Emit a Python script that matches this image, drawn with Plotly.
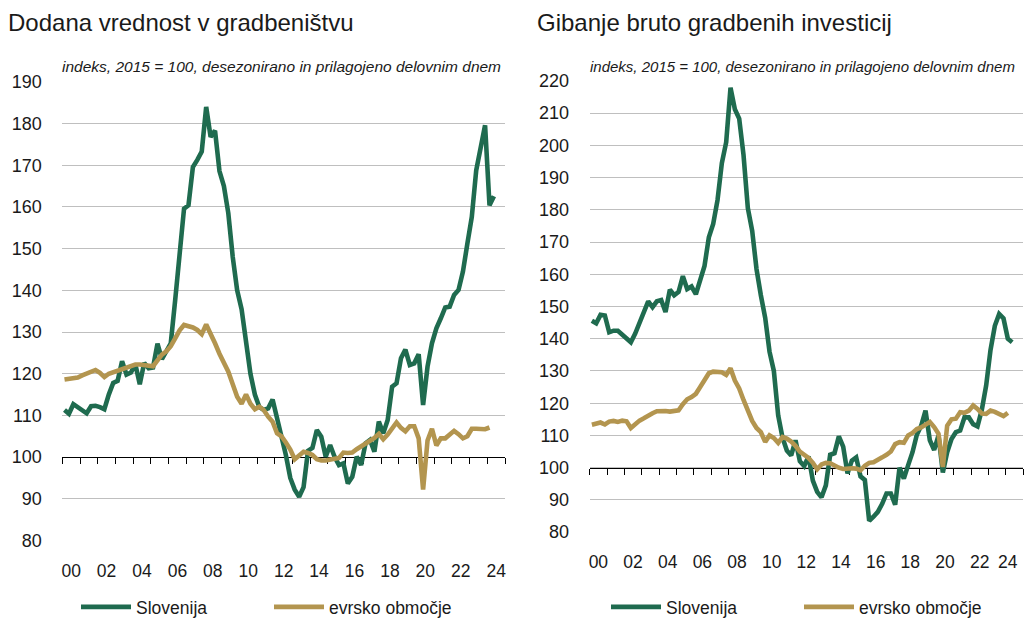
import plotly.graph_objects as go

W, H = 1024, 620

# ---- data: quarterly, 2000Q1 onwards ----
years = list(range(2000, 2025))
va_slovenia = [
    111.3, 110.4, 112.7, 112.0, 111.3, 110.5, 112.2, 112.3, 112.0, 111.5,
    115.0, 117.8, 118.3, 123.0, 119.8, 120.3, 122.3, 117.5, 122.6, 121.3,
    121.5, 127.2, 123.5, 125.6, 127.3, 137.7, 149.0, 159.6, 160.4, 169.6,
    171.3, 173.3, 184.0, 176.8, 178.3, 168.6, 165.0, 158.5, 148.0, 140.0,
    135.5, 127.0, 120.0, 115.0, 112.0, 111.3, 111.7, 113.8, 109.5, 105.5,
    100.5, 95.0, 92.2, 90.5, 92.8, 101.5, 102.2, 106.5, 104.9, 100.1,
    102.9, 100.1, 98.1, 98.5, 93.7, 95.3, 100.1, 98.1, 103.3, 104.1,
    101.3, 108.5, 105.7, 108.9, 116.9, 117.7, 123.7, 125.8, 122.1, 122.5,
    124.7, 112.5, 121.7, 127.3, 130.9, 133.3, 135.9, 136.1, 138.9, 140.1,
    144.5, 151.2, 157.6, 168.8, 173.6, 179.6, 160.4, 162.6,
]
va_euro = [
    118.6, 118.8, 119.0, 119.1, 119.6, 120.0, 120.4, 120.9, 120.2, 119.2,
    120.0, 120.4, 120.6, 120.9, 121.3, 121.8, 122.2, 122.2, 122.0, 121.8,
    121.8, 123.2, 124.6, 125.4, 126.6, 128.5, 130.4, 131.7, 131.4, 131.1,
    130.5, 129.5, 131.8, 129.2, 127.3, 124.8, 122.6, 120.5, 117.5, 114.5,
    112.8, 115.0, 112.8, 111.5, 112.1, 111.3, 109.7, 108.5, 105.7, 105.0,
    103.5, 101.8, 99.5, 100.3, 101.3, 101.0, 100.5, 99.5, 99.2, 99.2,
    99.5, 99.6, 99.8, 101.1, 101.0, 101.1, 101.9, 102.5, 103.2, 103.8,
    104.6, 105.6, 104.3, 105.4, 106.8, 108.3, 107.0, 106.2, 107.4, 107.4,
    104.5, 92.2, 104.0, 106.8, 102.8, 104.5, 104.5, 105.3, 106.3, 105.5,
    104.5, 105.0, 106.8, 106.8, 106.7, 106.7, 107.1,
]
inv_slovenia = [
    145.6, 144.8, 147.4, 147.2, 142.0, 142.5, 142.5, 141.2, 140.2, 138.9,
    141.6, 144.8, 147.9, 151.6, 149.8, 151.6, 152.0, 148.3, 155.2, 153.5,
    154.5, 159.4, 155.4, 156.2, 153.8, 158.4, 162.6, 171.5, 175.6, 183.0,
    194.5, 201.0, 217.9, 211.2, 208.3, 197.0, 180.5, 173.5, 161.6, 153.5,
    146.5, 136.0, 130.0, 116.2, 109.3, 105.3, 103.8, 108.5, 102.0, 100.5,
    103.5, 96.0, 92.5, 90.8, 94.5, 104.0, 104.5, 109.7, 106.5, 98.2,
    102.2, 103.2, 97.3, 96.2, 83.5, 84.8, 86.3, 88.8, 92.0, 92.0,
    88.5, 100.0, 96.6, 100.8, 104.8, 110.2, 113.0, 117.7, 108.5, 105.5,
    110.0, 98.5, 104.8, 108.9, 111.0, 111.5, 115.6, 115.6, 113.5, 112.8,
    118.0, 125.5, 136.5, 144.0, 147.7, 146.3, 140.0, 138.9,
]
inv_euro = [
    113.3, 113.6, 114.0, 113.4, 114.3, 114.5, 114.2, 114.6, 114.4, 112.3,
    113.6, 114.6, 115.3, 116.2, 116.9, 117.5, 117.7, 117.6, 117.4, 117.7,
    117.8, 119.7, 121.2, 121.9, 122.9, 125.0, 127.0, 129.3, 129.8, 129.6,
    129.6, 128.8, 130.8, 127.0, 124.6, 121.0, 117.3, 114.5, 112.3, 111.0,
    108.0, 110.0, 109.2, 107.7, 109.5, 109.0, 108.1, 106.8, 105.0, 104.0,
    103.0, 101.5, 99.5, 101.0, 101.5, 101.4, 100.6, 100.0, 99.6, 99.8,
    99.8, 99.7, 99.2, 100.6, 101.5, 101.7, 102.3, 103.2, 104.0, 105.0,
    107.3, 107.9, 107.7, 110.0, 110.8, 112.0, 112.5, 113.3, 114.2, 112.6,
    110.5, 100.2, 113.0, 115.0, 115.2, 117.2, 117.0, 117.7, 119.3, 118.2,
    116.8, 116.7, 117.7, 117.3, 116.8, 116.0, 117.0,
]
tick_labels = ["00", "02", "04", "06", "08", "10", "12", "14", "16", "18", "20", "22", "24"]
series_names = ["Slovenija", "evrsko območje"]
titles = ["Dodana vrednost v gradbeništvu", "Gibanje bruto gradbenih investicij"]
subtitle = "indeks, 2015 = 100, desezonirano in prilagojeno delovnim dnem"


def qx(n):
    # quarter centre positions on a numeric year axis
    return [2000 + (i + 0.5) / 4 for i in range(n)]


GREEN = "#1F6B4F"
GOLD = "#B3954F"
GRID = "#BFBFBF"
FONT = "Liberation Sans, Arial, sans-serif"
TXT = "#1a1a1a"
LW = 4.6
CLEAR = "rgba(0,0,0,0)"

# panel geometry (px)
panels = [
    dict(x0=62.3, x1=505.0, ytop=81.7, ybot=540.7, yr=(80, 190), title_x=8, leg_x=76,
         sub_size=15.5, last_lab=2024.5),
    dict(x0=589.7, x1=1023.0, ytop=80.7, ybot=532.3, yr=(80, 220), title_x=537, leg_x=606,
         sub_size=15.0, last_lab=2024.12),
]

fig = go.Figure()

data_sets = [(va_slovenia, va_euro), (inv_slovenia, inv_euro)]
layout = dict(
    width=W, height=H, margin=dict(l=0, r=0, t=0, b=0, autoexpand=False),
    paper_bgcolor="white", plot_bgcolor="white",
    font=dict(family=FONT, color=TXT),
    showlegend=True,
)

annotations = []
for k, (p, (slo, eur)) in enumerate(zip(panels, data_sets)):
    xs = "" if k == 0 else str(4 * k + 1)  # x, x5
    xl = "x" + xs
    yl = "y" + ("" if k == 0 else "2")
    tx = "x" + str(4 * k + 3)  # x3 / x7 tick-line axis
    dom_x = [p["x0"] / W, p["x1"] / W]
    dom_y = [1 - p["ybot"] / H, 1 - p["ytop"] / H]
    y0, y1 = p["yr"]
    pos100 = dom_y[0] + (100 - y0) / (y1 - y0) * (dom_y[1] - dom_y[0])
    legname = "legend" if k == 0 else "legend2"

    fig.add_trace(go.Scatter(x=qx(len(slo)), y=slo, mode="lines", name=series_names[0],
                             line=dict(color=GREEN, width=LW), xaxis=xl, yaxis=yl,
                             legend=legname))
    fig.add_trace(go.Scatter(x=qx(len(eur)), y=eur, mode="lines", name=series_names[1],
                             line=dict(color=GOLD, width=LW), xaxis=xl, yaxis=yl,
                             legend=legname))
    # empty legend spacer so the last legend label is not clipped
    fig.add_trace(go.Scatter(x=[None], y=[None], mode="lines", name=" ",
                             line=dict(width=0, color=CLEAR), hoverinfo="skip",
                             xaxis=xl, yaxis=yl, legend=legname))
    # invisible helper trace so the tick-line axis is rendered
    fig.add_trace(go.Scatter(x=[2000], y=[100], mode="lines", showlegend=False,
                             hoverinfo="skip", line=dict(width=0), opacity=0,
                             xaxis=tx, yaxis=yl))

    labvals = [y + 0.5 for y in years[::2]]
    labvals[-1] = p["last_lab"]
    layout["xaxis" + xs] = dict(
        domain=dom_x, range=[2000, 2025], anchor=yl,
        tickmode="array", tickvals=labvals, ticktext=tick_labels,
        ticks="outside", ticklen=14, tickcolor=CLEAR,
        showgrid=False, showline=False, zeroline=False,
        tickfont=dict(size=17.5, family=FONT, color=TXT),
        fixedrange=True,
    )
    layout["xaxis" + str(4 * k + 3)] = dict(
        domain=dom_x, range=[2000, 2025], anchor="free", position=pos100,
        overlaying=xl, tickmode="array", tickvals=list(range(2000, 2026)),
        ticks="outside", ticklen=6, tickwidth=1, tickcolor="#000000",
        showline=True, linecolor="#000000", linewidth=1.2,
        showticklabels=False, showgrid=False, zeroline=False, layer="below traces",
        fixedrange=True,
    )
    layout["yaxis" + ("" if k == 0 else "2")] = dict(
        domain=dom_y, range=[y0 - 0.05, y1 + 0.05], anchor=xl,
        tickmode="linear", tick0=y0, dtick=10,
        showgrid=True, gridcolor=GRID, gridwidth=1.3,
        showline=False, zeroline=False, ticks="outside", ticklen=16, tickcolor=CLEAR,
        tickfont=dict(size=18, family=FONT, color=TXT),
        fixedrange=True,
    )
    layout[legname] = dict(
        orientation="h", x=p["leg_x"] / W, y=1 - 607 / H, xanchor="left", yanchor="middle",
        font=dict(size=17.5, family=FONT, color=TXT),
        entrywidth=128, entrywidthmode="pixels", bgcolor=CLEAR,
        itemwidth=50, borderwidth=0,
    )
    annotations.append(dict(
        text=titles[k], xref="paper", yref="paper", x=(p["title_x"] - 2) / W,
        y=1 - 22 / H, xanchor="left", yanchor="middle", showarrow=False,
        font=dict(size=24, family=FONT, color=TXT),
    ))
    annotations.append(dict(
        text="<i>" + subtitle + "</i>", xref="paper", yref="paper", x=(p["x0"] - 2) / W,
        y=1 - 67 / H, xanchor="left", yanchor="middle", showarrow=False,
        font=dict(size=p["sub_size"], family=FONT, color=TXT),
    ))

layout["annotations"] = annotations
fig.update_layout(**layout)
fig.write_html("out.html", config={"displayModeBar": False},
               post_script="document.body.style.margin='0px';")
